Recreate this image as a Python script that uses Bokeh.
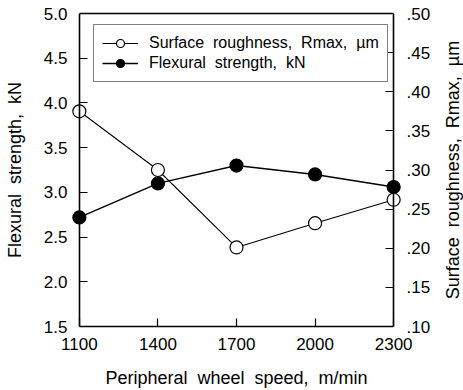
from bokeh.plotting import figure
from bokeh.layouts import row
from bokeh.models import (Range1d, LinearAxis, FixedTicker, CustomJSTickFormatter,
                          Legend, LegendItem)
from bokeh.embed import file_html
from bokeh.resources import INLINE

# ---- data ----
speed = [1100, 1400, 1700, 2000, 2300]                 # m/min
roughness = [0.375, 0.300, 0.201, 0.232, 0.262]        # Rmax, um (right axis)
flexural = [2.72, 3.10, 3.30, 3.20, 3.06]              # kN (left axis)

x_ticks = [1100, 1400, 1700, 2000, 2300]
left_ticks = [1.5, 2.0, 2.5, 3.0, 3.5, 4.0, 4.5, 5.0]
right_ticks = [0.10, 0.15, 0.20, 0.25, 0.30, 0.35, 0.40, 0.45, 0.50]

FONT = "Liberation Sans"
PAD = 30  # keeps edge markers from being clipped
SP = " \u00a0"

p = figure(width=440, height=390,
           x_range=Range1d(x_ticks[0] - PAD, x_ticks[-1] + PAD),
           y_range=Range1d(left_ticks[0], left_ticks[-1]),
           output_backend="svg", toolbar_location=None,
           x_axis_location=None, y_axis_location=None,
           min_border_left=71, min_border_right=39,
           min_border_top=13, min_border_bottom=64)
p.extra_y_ranges = {"r": Range1d(right_ticks[0], right_ticks[-1])}
p.grid.visible = False
p.outline_line_color = None
p.background_fill_color = "white"
p.border_fill_color = "white"

EMPTY = CustomJSTickFormatter(code="return '';")


def style(ax):
    ax.axis_line_color = "black"
    ax.axis_line_width = 1.6
    ax.major_tick_line_color = "black"
    ax.major_tick_line_width = 1.2
    ax.major_tick_in = 8
    ax.major_tick_out = 0
    ax.minor_tick_line_color = None
    ax.major_label_text_font = FONT
    ax.major_label_text_font_size = "17px"
    ax.major_label_text_color = "black"
    ax.axis_label_text_font = FONT
    ax.axis_label_text_font_size = "18px"
    ax.axis_label_text_font_style = "normal"
    ax.axis_label_text_color = "black"


def lines_only(ax):
    style(ax)
    ax.formatter = EMPTY
    ax.major_label_standoff = 0


def labels_only(ax):
    style(ax)
    ax.axis_line_color = None
    ax.major_tick_line_color = None
    ax.major_tick_in = 0


bottom = LinearAxis(ticker=FixedTicker(ticks=x_ticks), bounds=(x_ticks[0], x_ticks[-1]),
                    axis_label=f"Peripheral{SP}wheel{SP}speed,{SP}m/min")
style(bottom)
bottom.major_label_standoff = 11
bottom.axis_label_standoff = 15
p.add_layout(bottom, "below")

top = LinearAxis(ticker=FixedTicker(ticks=[]), bounds=(x_ticks[0], x_ticks[-1]))
lines_only(top)
p.add_layout(top, "above")

left_line = LinearAxis(ticker=FixedTicker(ticks=left_ticks), fixed_location=x_ticks[0])
lines_only(left_line)
p.add_layout(left_line, "left")

left = LinearAxis(ticker=FixedTicker(ticks=left_ticks),
                  axis_label=f"Flexural{SP}strength,{SP}kN",
                  formatter=CustomJSTickFormatter(code="return tick.toFixed(1);"))
labels_only(left)
left.major_label_standoff = 4
left.axis_label_standoff = 16
p.add_layout(left, "left")

right_line = LinearAxis(y_range_name="r", ticker=FixedTicker(ticks=right_ticks),
                        fixed_location=x_ticks[-1])
lines_only(right_line)
p.add_layout(right_line, "right")

right = LinearAxis(y_range_name="r", ticker=FixedTicker(ticks=right_ticks),
                   formatter=CustomJSTickFormatter(code="return tick.toFixed(2).replace(/^0/, '');"))
labels_only(right)
right.major_label_standoff = 5
p.add_layout(right, "right")

# ---- series ----
fl_line = p.line(speed, flexural, line_color="black", line_width=1.4)
fl_pts = p.scatter(speed, flexural, marker="circle", size=13,
                   fill_color="black", line_color="black", line_width=1.2)
ro_line = p.line(speed, roughness, y_range_name="r", line_color="black", line_width=1.1)
ro_pts = p.scatter(speed, roughness, y_range_name="r", marker="circle", size=13,
                   fill_color="white", line_color="black", line_width=1.2)

legend = Legend(items=[
    LegendItem(label=f"Surface{SP}roughness,{SP}Rmax,{SP}\u00b5m", renderers=[ro_line, ro_pts]),
    LegendItem(label=f"Flexural{SP}strength,{SP}kN", renderers=[fl_line, fl_pts]),
], location=(22, 244))
legend.border_line_color = "black"
legend.border_line_width = 1.5
legend.background_fill_color = "white"
legend.background_fill_alpha = 1
legend.label_text_font = FONT
legend.label_text_font_size = "16px"
legend.label_text_color = "black"
legend.glyph_width = 36
legend.glyph_height = 20
legend.label_height = 20
legend.label_standoff = 11
legend.padding = 8
legend.spacing = 0
legend.margin = 0
legend.label_width = 220
p.add_layout(legend, "center")

# ---- right-axis title, reading bottom-to-top, in a narrow side strip ----
p2 = figure(width=23, height=390, output_backend="svg", toolbar_location=None,
            title=f"Surface{SP}roughness,{SP}Rmax,{SP}\u00b5m", title_location="left",
            x_axis_location=None, y_axis_location=None,
            min_border_left=0, min_border_right=0, min_border_top=13, min_border_bottom=64)
p2.grid.visible = False
p2.outline_line_color = None
p2.background_fill_color = "white"
p2.border_fill_color = "white"
p2.title.align = "center"
p2.title.text_font = FONT
p2.title.text_font_size = "18px"
p2.title.text_font_style = "normal"
p2.title.text_color = "black"
p2.title.standoff = 0
p2.title.offset = 16

layout = row(p, p2, spacing=0)
open("out.html", "w").write(file_html(layout, INLINE))
